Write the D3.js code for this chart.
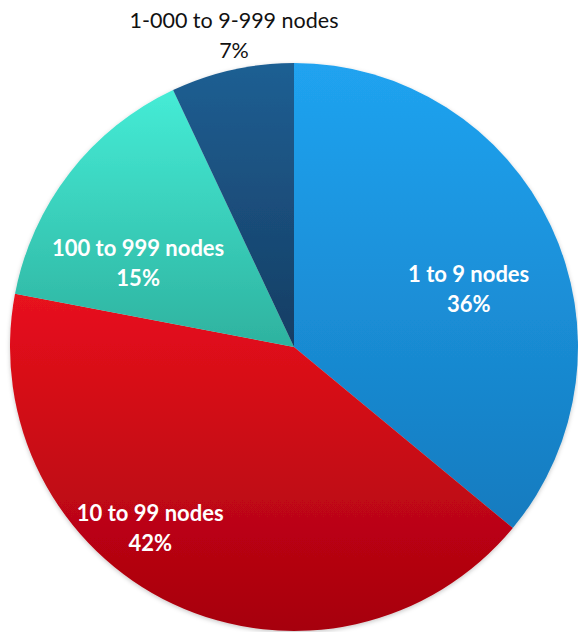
<!DOCTYPE html>
<html>
<head>
<meta charset="utf-8">
<script src="https://cdn.jsdelivr.net/npm/d3@7"></script>
<style>
  html, body { margin: 0; padding: 0; background: #fff; }
  svg { display: block; }
</style>
</head>
<body>
<svg id="chart" width="578" height="632"></svg>
<script>
// Cluster size distribution
const categories = ["1 to 9 nodes", "10 to 99 nodes", "100 to 999 nodes", "1-000 to 9-999 nodes"];
const shares = [36, 42, 15, 7];
const percentLabels = ["36%", "42%", "15%", "7%"];

// Vertical gradient across each slice's own box: [top colour, bottom colour]
const gradientStops = [
  ["#20a3f0", "#157bbf"],
  ["#e8121c", "#a6000e"],
  ["#45ecd6", "#2eb29f"],
  ["#1f5f93", "#153d63"]
];
// Label placement: radius, angle nudge (rad), text colour, size, weight
const labelRadius = [184, 231, 177, 318];
const labelAngleShift = [0.12, 0.232, -0.166, 0.03];
const labelColor = ["#fff", "#fff", "#fff", "#111"];
const labelSize = [22, 22, 22, 21.5];
const labelWeight = ["bold", "bold", "bold", "normal"];

const svg = d3.select("#chart");
const cx = 294, cy = 347, radius = 284;

const defs = svg.append("defs");
gradientStops.forEach((s, i) => {
  const g = defs.append("linearGradient")
    .attr("id", "grad" + i)
    .attr("x1", 0).attr("y1", 0)
    .attr("x2", 0).attr("y2", 1);
  g.append("stop").attr("offset", "0%").attr("stop-color", s[0]);
  g.append("stop").attr("offset", "100%").attr("stop-color", s[1]);
});
const shadow = defs.append("filter").attr("id", "shadow")
  .attr("x", "-10%").attr("y", "-10%").attr("width", "120%").attr("height", "120%");
shadow.append("feDropShadow")
  .attr("dx", 0).attr("dy", 1.5).attr("stdDeviation", 2)
  .attr("flood-color", "#000").attr("flood-opacity", 0.22);

const pie = d3.pie().sort(null).value(d => d);
const arcs = pie(shares);
const arc = d3.arc().innerRadius(0).outerRadius(radius);

const g = svg.append("g").attr("transform", `translate(${cx},${cy})`);

g.append("g").attr("filter", "url(#shadow)")
  .selectAll("path")
  .data(arcs)
  .join("path")
  .attr("d", arc)
  .attr("fill", (d, i) => `url(#grad${i})`);

const labels = g.append("g")
  .attr("font-family", "Lato, 'Open Sans', sans-serif")
  .attr("text-anchor", "middle");

arcs.forEach((d, i) => {
  const a = (d.startAngle + d.endAngle) / 2 + labelAngleShift[i];
  const x = Math.sin(a) * labelRadius[i];
  const y = -Math.cos(a) * labelRadius[i];
  const t = labels.append("text")
    .attr("fill", labelColor[i])
    .attr("font-size", labelSize[i])
    .attr("font-weight", labelWeight[i])
    .attr("transform", `translate(${x},${y})`);
  t.append("tspan").attr("x", 0).attr("y", -7).text(categories[i]);
  t.append("tspan").attr("x", 0).attr("y", 23).text(percentLabels[i]);
});
</script>
</body>
</html>
